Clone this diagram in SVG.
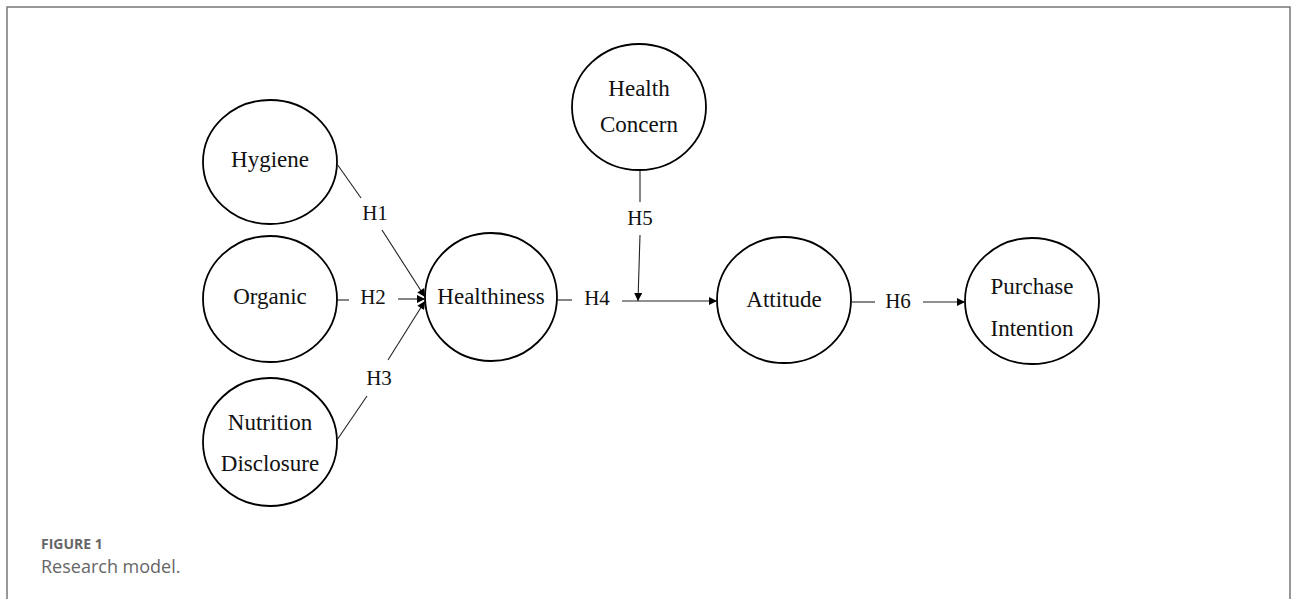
<svg xmlns="http://www.w3.org/2000/svg" width="1292" height="599" viewBox="0 0 1292 599">
<defs>
<marker id="arr" viewBox="0 0 10 10" refX="10" refY="5" markerWidth="10" markerHeight="8" markerUnits="userSpaceOnUse" orient="auto">
<path d="M0,0 L10,5 L0,10 z" fill="#000"/>
</marker>
</defs>
<style>
.node ellipse{fill:#fff;stroke:#000;stroke-width:1.8}
.node text{font-family:"Liberation Serif","Times New Roman",serif;font-size:23px;fill:#111;text-anchor:middle}
.lbl{font-family:"Liberation Serif","Times New Roman",serif;font-size:21px;fill:#111;text-anchor:middle}
#connectors line{stroke:#222;stroke-width:1.1}
.cap1{font-family:"Open Sans","Noto Sans",sans-serif;font-size:14px;font-weight:bold;fill:#666}
.cap2{font-family:"Open Sans","Noto Sans",sans-serif;font-size:18px;fill:#666}
</style>
<rect width="1292" height="599" fill="#fff"/>
<path d="M7,599 V7 H1290 V599" fill="none" stroke="#777" stroke-width="1.5"/>
<g id="hygiene" class="node"><ellipse cx="270" cy="162" rx="67" ry="62"/><text x="270" y="167">Hygiene</text></g>
<g id="organic" class="node"><ellipse cx="270" cy="299" rx="67" ry="63"/><text x="270" y="304">Organic</text></g>
<g id="nutrition" class="node"><ellipse cx="270" cy="442" rx="67" ry="64"/><text x="270" y="430">Nutrition</text><text x="270" y="471">Disclosure</text></g>
<g id="healthiness" class="node"><ellipse cx="491" cy="297" rx="66" ry="64"/><text x="491" y="304">Healthiness</text></g>
<g id="healthconcern" class="node"><ellipse cx="639" cy="107" rx="67" ry="63"/><text x="639" y="96">Health</text><text x="639" y="132">Concern</text></g>
<g id="attitude" class="node"><ellipse cx="784" cy="300" rx="67" ry="63"/><text x="784" y="307">Attitude</text></g>
<g id="purchase" class="node"><ellipse cx="1032" cy="301" rx="67" ry="63"/><text x="1032" y="294">Purchase</text><text x="1032" y="336">Intention</text></g>
<g id="connectors">
<line x1="337" y1="164" x2="361" y2="198"/>
<line x1="382" y1="230" x2="425" y2="297" marker-end="url(#arr)"/>
<line x1="337" y1="300" x2="349" y2="300"/>
<line x1="398" y1="299" x2="425" y2="299" marker-end="url(#arr)"/>
<line x1="337" y1="440" x2="367" y2="396"/>
<line x1="388" y1="360" x2="425" y2="301" marker-end="url(#arr)"/>
<line x1="557" y1="300" x2="572" y2="300"/>
<line x1="622" y1="301" x2="717" y2="301" marker-end="url(#arr)"/>
<line x1="640" y1="170" x2="640" y2="202"/>
<line x1="640" y1="235" x2="638" y2="301" marker-end="url(#arr)"/>
<line x1="851" y1="302" x2="875" y2="302"/>
<line x1="923" y1="302" x2="965" y2="302" marker-end="url(#arr)"/>
<text class="lbl" x="375" y="220">H1</text>
<text class="lbl" x="373" y="304">H2</text>
<text class="lbl" x="379" y="385">H3</text>
<text class="lbl" x="597" y="305">H4</text>
<text class="lbl" x="640" y="225">H5</text>
<text class="lbl" x="898" y="308">H6</text>
</g>
<text class="cap1" x="41" y="549">FIGURE 1</text>
<text class="cap2" x="41" y="573">Research model.</text>
</svg>
